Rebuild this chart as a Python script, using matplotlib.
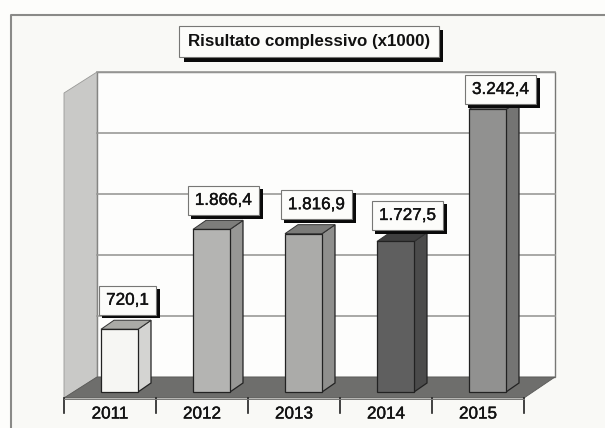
import matplotlib
matplotlib.use("Agg")
import matplotlib.pyplot as plt
import matplotlib.patheffects as pe
from matplotlib.patches import Polygon, Rectangle
from matplotlib.transforms import Affine2D

# values
years = ["2011", "2012", "2013", "2014", "2015"]
values = [720.1, 1866.4, 1816.9, 1727.5, 3242.4]
labels = ["720,1", "1.866,4", "1.816,9", "1.727,5", "3.242,4"]
grid_values = [700, 1400, 2100, 2800, 3500]

# look of the bars: front, side, top
front_cols = ["#f6f6f3", "#b4b4b2", "#ababa9", "#5f5f5f", "#919190"]
side_cols = ["#d4d4d2", "#979795", "#8f8f8d", "#4b4b4b", "#747473"]
top_cols = ["#aaaaa6", "#7d7d7b", "#7b7b79", "#3f3f3f", "#6a6a69"]
label_shift = [(8, 29), (12, 29), (13, 29), (12, 26), (13, 20)]

W, H = 605, 428
fig = plt.figure(figsize=(W / 100, H / 100), dpi=100, facecolor="#fdfdfb")
plt.rcParams["font.family"] = ["Liberation Sans", "DejaVu Sans"]

# one axes over the whole figure, 92 px per category, 305 px for 3500
ax = fig.add_axes([0, 0, 1, 1])
per_px = 3500 / 305
ax.set_xlim((0 - 119.5) / 92, (W - 119.5) / 92)
ax.set_ylim((392 - H) * per_px, 392 * per_px)
ax.axis("off")

# pixel coordinates from the top left, for the chart frame
px = Affine2D().scale(1, -1).translate(0, H)


def chrome(pts, fc, ec="none", lw=0, z=1):
    ax.add_patch(Polygon(pts, closed=True, fc=fc, ec=ec, lw=lw, zorder=z, transform=px))


# frame of the chart area
chrome([(11, 15), (W, 15), (W, H), (11, H)], "#f9f9f6")
ax.plot([10.5, 10.5, W], [H, 15, 15], color="#8a8a88", lw=1.5, transform=px, zorder=2)

# walls and floor
chrome([(97, 72), (555, 72), (555, 377), (97, 377)], "#fdfdfc", "#777775", 1.0, 2)
chrome([(64, 93), (97, 72), (97, 377), (64, 398)], "#c9c9c7", "#999997", 0.6, 2)
chrome([(64, 398), (97, 377), (555, 377), (524, 398)], "#6e6e6c", "#5a5a58", 0.6, 3)

for g in grid_values:
    # the gridlines sit on the back wall, which starts at the floor's back edge
    ax.plot([97, 555], [377 - g / per_px] * 2, color="#9a9a98", lw=1.2, transform=px, zorder=2.5)

# bars, with the depth given in data units
bar_w = 37 / 92
dx = 13 / 92
dy = 9 * per_px
for i, v in enumerate(values):
    ax.add_patch(Rectangle((i - bar_w / 2, 0), bar_w, v, fc=front_cols[i], ec="#222222", lw=0.9, zorder=5))
    ax.add_patch(Polygon([(i + bar_w / 2, 0), (i + bar_w / 2 + dx, dy), (i + bar_w / 2 + dx, v + dy), (i + bar_w / 2, v)],
                         fc=side_cols[i], ec="#222222", lw=0.9, zorder=4))
    ax.add_patch(Polygon([(i - bar_w / 2, v), (i - bar_w / 2 + dx, v + dy), (i + bar_w / 2 + dx, v + dy), (i + bar_w / 2, v)],
                         fc=top_cols[i], ec="#333333", lw=0.7, zorder=4))

    t = ax.annotate(labels[i], xy=(i, v), xytext=label_shift[i], textcoords="offset pixels",
                    ha="center", va="center", fontsize=12.3, color="#111111", zorder=8,
                    bbox=dict(boxstyle="square,pad=0.42", fc="#fcfcfa", ec="#777775", lw=0.8))
    t.set_path_effects([pe.withStroke(linewidth=0.3, foreground="#111111")])
    t.get_bbox_patch().set_path_effects([
        pe.SimplePatchShadow(offset=(2.5, -2.5), shadow_rgbFace="#0a0a0a", alpha=1), pe.Normal()])

# ticks and year labels under the floor
for k in range(len(years) + 1):
    tx = k - 0.5 - 9.5 / 92
    ax.plot([tx, tx], [-6 * per_px, -21 * per_px], color="#222222", lw=1.2, zorder=6)
ax.plot([-0.5 - 9.5 / 92, 4.5 - 9.5 / 92], [-6.5 * per_px] * 2, color="#777775", lw=0.7, zorder=6)
for i, y in enumerate(years):
    ax.text(i - 9.5 / 92, -22 * per_px, y, ha="center", va="center", fontsize=12.3, color="#111111", zorder=6,
            path_effects=[pe.withStroke(linewidth=0.3, foreground="#111111")])

# title
title = ax.text(309, 41.5, "Risultato complessivo (x1000)", transform=px, ha="center", va="center",
                fontsize=12.2, fontweight="bold", color="#111111", zorder=8,
                bbox=dict(boxstyle="square,pad=0.5", fc="#fcfcfa", ec="#777775", lw=0.8))
title.get_bbox_patch().set_path_effects([
    pe.SimplePatchShadow(offset=(3, -3), shadow_rgbFace="#0a0a0a", alpha=1), pe.Normal()])

fig.savefig("out.png", dpi=100, facecolor=fig.get_facecolor())
